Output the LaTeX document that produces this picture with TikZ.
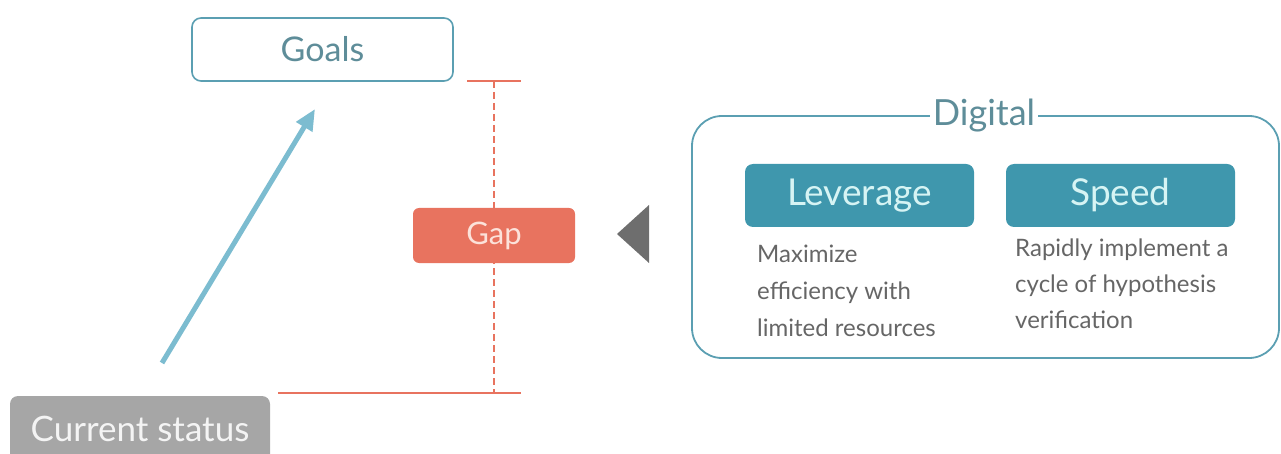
\documentclass[tikz,border=0pt]{standalone}
\usepackage{fontspec}
\setmainfont{Lato}
\usetikzlibrary{arrows.meta}
\definecolor{teal}{HTML}{5B9FB2}
\definecolor{goaltxt}{HTML}{5E8D99}
\definecolor{arrowblue}{HTML}{7CBCD0}
\definecolor{salmon}{HTML}{E8735F}
\definecolor{gaptxt}{HTML}{FCE2DA}
\definecolor{darktri}{HTML}{6E6E6E}
\definecolor{boxteal}{HTML}{3F97AD}
\definecolor{boxtxt}{HTML}{D6F4F4}
\definecolor{bodytxt}{HTML}{666666}
\definecolor{graybox}{HTML}{A6A6A6}
\definecolor{graytxt}{HTML}{F4F4F4}
\tikzset{
  goalbox/.style={draw=teal, line width=1.6pt, fill=white, rounded corners=9pt,
    minimum width=261pt, minimum height=63pt, inner sep=0pt, text=goaltxt,
    font=\fontsize{34}{34}\selectfont},
  gapbox/.style={fill=salmon, rounded corners=6pt, minimum width=162pt, minimum height=55pt,
    inner sep=0pt, text=gaptxt, font=\fontsize{31}{31}\selectfont},
  curbox/.style={fill=graybox, rounded corners=8pt, minimum width=260pt, minimum height=66pt,
    inner sep=0pt, text=graytxt, font=\fontsize{35}{35}\selectfont},
  featbox/.style={fill=boxteal, rounded corners=8pt, minimum width=229pt, minimum height=63pt,
    inner sep=0pt, text=boxtxt, font=\fontsize{37}{37}\selectfont},
  bodyline/.style={anchor=base west, inner sep=0pt, text=bodytxt, font=\fontsize{24}{24}\selectfont},
  gapline/.style={draw=salmon, line width=1.4pt},
  gapdash/.style={draw=salmon, line width=1.1pt, dash pattern=on 7pt off 4pt},
}
\begin{document}
\begin{tikzpicture}[x=1pt,y=-1pt]
\useasboundingbox (0,0) rectangle (1281,454);
% gap measurement lines
\coordinate (topL) at (467,81);
\coordinate (topR) at (521,81);
\coordinate (botL) at (278,393);
\coordinate (botR) at (521,393);
\coordinate (dashT) at (494,81);
\coordinate (dashB) at (494,393);
\draw[gapline] (topL) -- (topR);
\draw[gapline] (botL) -- (botR);
\draw[gapdash] (dashT) -- (dashB);
% nodes
\node[goalbox] (goals) at (322.5,49.5) {Goals};
\node[gapbox] (gap) at (494,235.5) {Gap};
\begin{scope}
\clip (0,0) rectangle (1281,454);
\node[curbox] (cur) at (140,429) {Current status};
\end{scope}
% rising arrow
\coordinate (arrS) at (162,363);
\coordinate (arrE) at (315,109);
\draw[arrowblue, line width=5pt, -{Triangle[length=21pt,width=18pt]}] (arrS) -- (arrE);
% triangle pointer
\coordinate (triTip) at (617,234);
\coordinate (triU) at (649,205);
\coordinate (triD) at (649,263);
\fill[darktri] (triTip) -- (triU) -- (triD) -- cycle;
% digital frame
\coordinate (dfNW) at (692,116);
\coordinate (dfSE) at (1279,358);
\draw[teal, line width=1.8pt, rounded corners=30pt] (dfNW) rectangle (dfSE);
\node[fill=white, inner xsep=3pt, inner ysep=0pt, text=goaltxt, font=\fontsize{36}{36}\selectfont] (digital) at (984,116) {Digital};
\node[featbox] (lev) at (859.5,195.5) {Leverage};
\node[featbox] (spd) at (1120.5,195.5) {Speed};
\node[bodyline] (l1) at (757,262) {Maximize};
\node[bodyline] (l2) at (757,299) {efficiency with};
\node[bodyline] (l3) at (757,336) {limited resources};
\node[bodyline] (r1) at (1015,256) {Rapidly implement a};
\node[bodyline] (r2) at (1015,292) {cycle of hypothesis};
\node[bodyline] (r3) at (1015,328) {verification};
\end{tikzpicture}
\end{document}
